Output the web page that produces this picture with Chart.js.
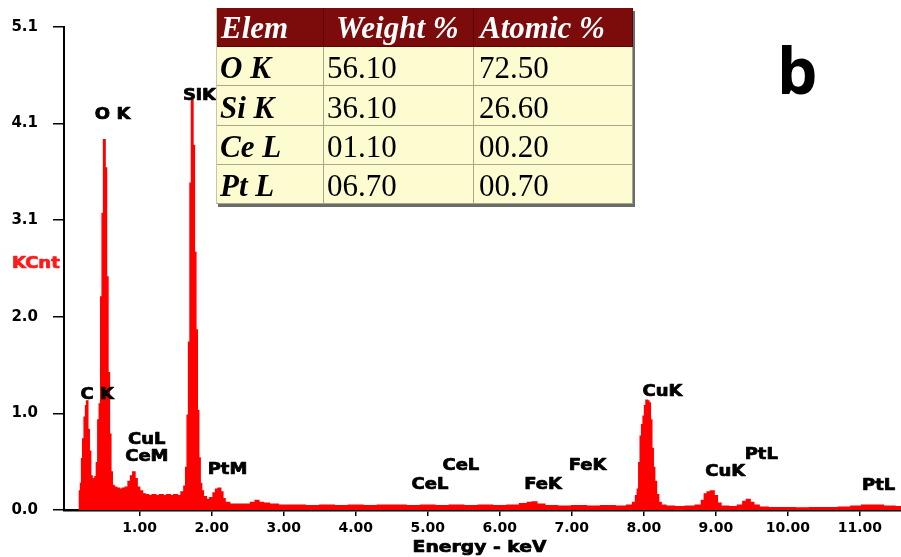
<!DOCTYPE html>
<html>
<head>
<meta charset="utf-8">
<script src="https://cdn.jsdelivr.net/npm/chart.js@4/dist/chart.umd.min.js"></script>
<style>
  html, body { margin: 0; padding: 0; background: #fff; }
  #wrap { position: relative; width: 901px; height: 557px; overflow: hidden; }
  #eds { position: absolute; left: 0; top: 0; }
  #quant {
    position: absolute; left: 216px; top: 8px;
    display: grid;
    grid-template-columns: 107px 150px 159px;
    grid-template-rows: 39px 39px 40px 39px 39px;
    font-family: "Liberation Serif", "Times New Roman", serif;
    background: #fdfbd0;
    box-shadow: 2px 3px 0 #6b6b6b;
    border-left: 1px solid #c9c6a8;
  }
  #quant div {
    display: flex; align-items: center;
    box-sizing: border-box;
    border-right: 1px solid #a9a68c;
    border-bottom: 1px solid #a9a68c;
    font-size: 31px; color: #000; white-space: nowrap;
    padding-top: 4px;
  }
  #quant .hd {
    background: #7c0b0b; color: #fff;
    font-weight: bold; font-style: italic; font-size: 31px;
    border-color: #5a0606; padding-top: 2px;
  }
  #quant .el { font-weight: bold; font-style: italic; padding-left: 3px; }
  #quant .v1 { padding-left: 3px; }
  #quant .v2 { padding-left: 5px; }
  #panel {
    position: absolute; left: 777px; top: 30px;
    font-family: "Open Sans", sans-serif; font-weight: 700; font-size: 64px;
    line-height: 80px; color: #000;
  }
</style>
</head>
<body>
<div id="wrap">
  <canvas id="eds" width="901" height="557"></canvas>
  <div id="quant"></div>
  <div id="panel">b</div>
</div>
<script>
// EDS spectrum: energy channels (keV) and counts (KCnt)
const energyKeV = [
  0.16, 0.17, 0.19, 0.20, 0.22, 0.24, 0.26, 0.27, 0.29, 0.31,
  0.33, 0.35, 0.37, 0.39, 0.41, 0.43, 0.45, 0.47, 0.49, 0.51,
  0.53, 0.55, 0.57, 0.59, 0.61, 0.63, 0.66, 0.70, 0.74, 0.78,
  0.82, 0.86, 0.89, 0.92, 0.95, 0.98, 1.02, 1.06, 1.10, 1.15,
  1.20, 1.25, 1.30, 1.35, 1.40, 1.45, 1.50, 1.55, 1.60, 1.63,
  1.65, 1.67, 1.69, 1.71, 1.73, 1.75, 1.77, 1.79, 1.81, 1.83,
  1.85, 1.87, 1.90, 1.95, 2.00, 2.04, 2.07, 2.11, 2.14, 2.17,
  2.20, 2.30, 2.40, 2.50, 2.58, 2.63, 2.68, 2.75, 2.85, 3.00,
  3.20, 3.40, 3.60, 3.80, 4.00, 4.20, 4.40, 4.60, 4.80, 5.00,
  5.20, 5.40, 5.60, 5.80, 6.00, 6.20, 6.35, 6.42, 6.48, 6.55,
  6.70, 6.90, 7.10, 7.30, 7.50, 7.70, 7.82, 7.87, 7.90, 7.92,
  7.94, 7.96, 7.98, 8.00, 8.02, 8.04, 8.06, 8.08, 8.10, 8.12,
  8.14, 8.16, 8.19, 8.22, 8.26, 8.35, 8.50, 8.65, 8.78, 8.82,
  8.86, 8.90, 8.95, 9.00, 9.04, 9.10, 9.25, 9.35, 9.40, 9.45,
  9.50, 9.55, 9.65, 9.80, 10.00, 10.20, 10.40, 10.60, 10.80, 10.95,
  11.10, 11.25, 11.40, 11.57
];
const countsKCnt = [
  0.00, 0.20, 0.28, 0.54, 0.75, 0.98, 1.10, 1.15, 0.85, 0.62,
  0.36, 0.32, 0.33, 0.35, 0.50, 0.95, 1.12, 2.25, 3.13, 3.91,
  3.61, 2.46, 1.45, 0.80, 0.40, 0.26, 0.24, 0.23, 0.22, 0.23,
  0.24, 0.30, 0.36, 0.40, 0.33, 0.24, 0.20, 0.17, 0.16, 0.15,
  0.16, 0.15, 0.16, 0.15, 0.16, 0.15, 0.16, 0.15, 0.19, 0.25,
  0.45, 1.00, 1.77, 3.45, 4.33, 3.85, 2.72, 1.90, 1.05, 0.55,
  0.28, 0.20, 0.14, 0.11, 0.13, 0.18, 0.22, 0.23, 0.19, 0.12,
  0.08, 0.06, 0.06, 0.06, 0.08, 0.10, 0.08, 0.07, 0.06, 0.05,
  0.05, 0.045, 0.05, 0.045, 0.05, 0.045, 0.05, 0.05, 0.045, 0.05,
  0.045, 0.05, 0.045, 0.05, 0.045, 0.05, 0.065, 0.08, 0.085, 0.06,
  0.045, 0.04, 0.045, 0.04, 0.045, 0.04, 0.05, 0.08, 0.15, 0.22,
  0.50, 0.78, 0.90, 0.99, 1.10, 1.16, 1.15, 1.13, 0.95, 0.65,
  0.45, 0.30, 0.16, 0.08, 0.05, 0.04, 0.035, 0.04, 0.05, 0.10,
  0.17, 0.19, 0.20, 0.15, 0.07, 0.04, 0.035, 0.05, 0.09, 0.11,
  0.08, 0.05, 0.03, 0.025, 0.025, 0.02, 0.025, 0.025, 0.03, 0.04,
  0.05, 0.05, 0.04, 0.035
];

// Axis ticks
const energyTicks = [1, 2, 3, 4, 5, 6, 7, 8, 9, 10, 11];
const countTicks = [0, 1.02, 2.04, 3.06, 4.08, 5.1];

// Peak identifications: line name, energy (keV), label height (KCnt)
const peakNames   = ['O K', 'SiK', 'C K', 'CuL', 'CeM', 'PtM', 'CeL', 'CeL', 'FeK', 'FeK', 'CuK', 'CuK', 'PtL', 'PtL'];
const peakEnergy  = [0.625, 1.83, 0.41, 1.10, 1.10, 2.22, 5.03, 5.46, 6.60, 7.22, 8.26, 9.13, 9.63, 11.26];
const peakLabelAt = [4.17, 4.37, 1.21, 0.74, 0.56, 0.42, 0.26, 0.46, 0.26, 0.46, 1.24, 0.40, 0.58, 0.25];

// Quantification table
const tableHeader = ['Elem', 'Weight %', 'Atomic %'];
const elements    = ['O K', 'Si K', 'Ce L', 'Pt L'];
const weightPct   = ['56.10', '36.10', '01.10', '06.70'];
const atomicPct   = ['72.50', '26.60', '00.20', '00.70'];

// Build the table
const quant = document.getElementById('quant');
const headPad = [4, 12, 6];
tableHeader.forEach((t, i) => {
  const d = document.createElement('div');
  d.className = 'hd';
  d.style.paddingLeft = headPad[i] + 'px';
  d.textContent = t;
  quant.appendChild(d);
});
elements.forEach((el, i) => {
  [[el, 'el'], [weightPct[i], 'v1'], [atomicPct[i], 'v2']].forEach(([t, c]) => {
    const d = document.createElement('div');
    d.className = c;
    d.textContent = t;
    quant.appendChild(d);
  });
});

const labelFont = 'bold 15px "DejaVu Sans", sans-serif';

// heavier bold text: fill plus a thin outline of the same colour
function boldText(ctx, text, x, y, sx, color) {
  ctx.save();
  ctx.translate(x, y);
  ctx.scale(sx, 1);
  ctx.fillStyle = color;
  ctx.strokeStyle = color;
  ctx.lineWidth = 0.7;
  ctx.lineJoin = 'round';
  ctx.fillText(text, 0, 0);
  ctx.strokeText(text, 0, 0);
  ctx.restore();
}

// Peak names, y-axis unit and energy axis title
const annotations = {
  id: 'annotations',
  afterDatasetsDraw(chart) {
    const { ctx, chartArea, scales: { x, y } } = chart;
    ctx.save();
    ctx.font = labelFont;
    ctx.textAlign = 'center';
    ctx.textBaseline = 'middle';
    peakNames.forEach((name, i) => {
      boldText(ctx, name, x.getPixelForValue(peakEnergy[i]), y.getPixelForValue(peakLabelAt[i]), 1.2, '#000');
    });

    // energy axis title
    boldText(ctx, 'Energy - keV', (chartArea.left + chartArea.right) / 2 - 3, 548, 1.25, '#000');

    // unit label beside the count axis
    ctx.textAlign = 'left';
    boldText(ctx, 'KCnt', 12, (chartArea.top + chartArea.bottom) / 2 - 4, 1.2, '#ff1a1a');
    ctx.restore();
  }
};

new Chart(document.getElementById('eds'), {
  type: 'line',
  data: {
    datasets: [{
      data: energyKeV.map((e, i) => ({ x: e, y: countsKCnt[i] })),
      stepped: 'middle',
      fill: 'origin',
      backgroundColor: '#ff0000',
      borderColor: '#ff0000',
      borderWidth: 1.5,
      pointRadius: 0,
      tension: 0
    }]
  },
  options: {
    responsive: false,
    animation: false,
    devicePixelRatio: 1,
    layout: { padding: { top: 27, right: 0, left: 0, bottom: 0 } },
    plugins: { legend: { display: false }, tooltip: { enabled: false } },
    scales: {
      x: {
        type: 'linear',
        min: -0.05,
        max: 11.57,
        afterBuildTicks: s => { s.ticks = energyTicks.map(v => ({ value: v })); },
        afterFit: s => { s.height = 47; },
        ticks: {
          autoSkip: false, maxRotation: 0, padding: 4,
          color: '#000',
          font: { family: '"DejaVu Sans", sans-serif', weight: 'bold', size: 14 },
          callback: v => v.toFixed(2)
        },
        grid: { drawOnChartArea: false, drawTicks: true, tickLength: 6, color: '#000', lineWidth: 1.5 },
        border: { display: true, color: '#000', width: 2.5 }
      },
      y: {
        min: 0,
        max: 5.1,
        afterBuildTicks: s => { s.ticks = countTicks.map(v => ({ value: v })); },
        afterFit: s => { s.width = 64; },
        ticks: {
          autoSkip: false, padding: 15,
          color: '#000',
          font: { family: '"DejaVu Sans", sans-serif', weight: 'bold', size: 15 },
          callback: v => v.toFixed(1)
        },
        grid: { drawOnChartArea: false, drawTicks: true, tickLength: 11, color: '#000', lineWidth: 1.5 },
        border: { display: true, color: '#000', width: 2 }
      }
    }
  },
  plugins: [annotations]
});
</script>
</body>
</html>
